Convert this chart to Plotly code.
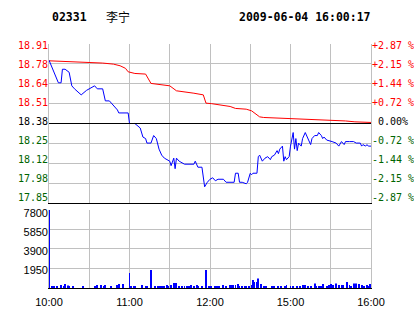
import plotly.graph_objects as go

# ---------------- data ----------------
stock_code = "02331"
stock_name = "李宁"
timestamp = "2009-06-04 16:00:17"
prev_close = 18.38

# minutes since 10:00 on a 240-minute trading axis (10:00-12:30, 14:30-16:00)
price_min = [0, 3, 7, 9, 10, 12, 14, 15, 17, 19, 24, 28, 34, 36, 40, 42, 45, 51, 52, 59, 60, 64,
             68, 70, 72, 73, 76, 78, 80, 82, 84, 86, 90, 91, 93, 94, 95, 97, 101, 108, 109, 111,
             114, 116, 118, 120, 122, 124, 126, 130, 132, 138, 139, 141, 142, 144, 147, 148, 150,
             151, 152, 155, 156, 157, 159, 161, 163, 165, 166, 168, 170, 171, 172, 174, 175, 176,
             177, 179, 180, 182, 183, 184, 185, 186, 188, 189, 191, 193, 195, 196, 198, 200, 201,
             203, 204, 205, 207, 211, 214, 216, 217, 218, 220, 221, 224, 227, 229, 232, 233, 234,
             236, 237, 238, 240]
price_val = [18.80, 18.74, 18.65, 18.65, 18.74, 18.74, 18.73, 18.72, 18.63, 18.61, 18.57, 18.60,
             18.63, 18.61, 18.61, 18.53, 18.53, 18.47, 18.45, 18.45, 18.38, 18.38,
             18.35, 18.29, 18.28, 18.25, 18.25, 18.30, 18.28, 18.21, 18.17, 18.15, 18.13, 18.10,
             18.15, 18.08, 18.15, 18.13, 18.11, 18.11, 18.13, 18.09,
             18.09, 17.96, 17.99, 18.01, 18.02, 18.00, 18.01, 18.01, 17.99, 17.99, 18.05, 18.05,
             17.99, 17.99, 17.98, 17.99, 18.05,
             18.04, 18.05, 18.05, 18.16, 18.17, 18.13, 18.15, 18.16, 18.14, 18.16, 18.17, 18.20,
             18.18, 18.21, 18.23, 18.13, 18.16,
             18.14, 18.16, 18.23, 18.32, 18.21, 18.28, 18.20, 18.25, 18.23, 18.28, 18.32, 18.28,
             18.24, 18.28, 18.30, 18.30, 18.32,
             18.30, 18.28, 18.29, 18.27, 18.26, 18.25, 18.23, 18.25, 18.26, 18.24, 18.26, 18.26,
             18.26, 18.25, 18.25, 18.23, 18.24,
             18.23, 18.24, 18.23, 18.23]

avg_min = [0, 12, 34, 40, 48, 53, 57, 59, 64, 72, 76, 86, 90, 95, 103, 108, 115, 117, 121, 130,
           135, 139, 147, 151, 154, 157, 160, 175, 196, 213, 221, 228, 240]
avg_val = [18.796, 18.792, 18.786, 18.781, 18.774, 18.763, 18.746, 18.723, 18.712, 18.708,
           18.646, 18.637, 18.630, 18.597, 18.590, 18.581, 18.570, 18.515, 18.512, 18.500,
           18.493, 18.480, 18.475, 18.464, 18.446, 18.424, 18.420, 18.415, 18.409, 18.402,
           18.397, 18.391, 18.387]

vol_min = [0, 2, 4, 6, 9, 11, 12, 14, 15, 18, 25, 34, 36, 39, 41, 42, 46, 51, 52, 55, 60, 61,
           63, 64, 69, 72, 73, 76, 79, 81, 83, 84, 86, 88, 89, 91, 93, 95, 97, 99, 101, 103, 104,
           105, 106, 108, 110, 111, 114, 117, 119, 121, 124, 125, 127, 130, 132, 135, 136, 137,
           139, 141, 142, 144, 146, 147, 149, 151, 152, 153, 155, 156, 158, 160, 162, 166, 167,
           168, 171, 173, 176, 177, 180, 182, 185, 187, 189, 191, 193, 195, 198, 199, 201, 203,
           204, 207, 209, 210, 212, 214, 216, 218, 219, 222, 224, 225, 227, 229, 231, 233, 235,
           237, 238, 239]
vol_val = [7750, 200, 200, 200, 300, 200, 400, 250, 200, 200, 200, 200, 300, 300, 200, 300, 200,
           300, 400, 400, 1500, 200,
           200, 200, 300, 200, 200, 1780, 200, 200, 200, 200, 200, 300, 200, 300, 500, 500, 200,
           200, 200, 200, 200,
           200, 300, 200, 300, 200, 200, 1780, 200, 200, 200, 200, 200, 300, 200, 300, 300, 300,
           300, 400, 200, 200, 200, 200, 200, 300, 800, 600, 600, 950, 400, 200, 200, 200, 200,
           200, 200, 200, 200, 300, 200, 200, 200, 200, 300, 300, 200, 200, 450, 200, 200, 200,
           400, 200, 300, 400, 300, 450, 300, 300, 300, 600, 300, 200, 450, 450, 400, 300, 200,
           300, 200, 400]

pct_ticks = [2.87, 2.15, 1.44, 0.72, 0.0, -0.72, -1.44, -2.15, -2.87]
price_tick_labels = ["18.91", "18.78", "18.64", "18.51", "18.38", "18.25", "18.12", "17.98", "17.85"]
pct_tick_labels = ["+2.87 %", "+2.15 %", "+1.44 %", "+0.72 %", "\u00a00.00%",
                   "-0.72 %", "-1.44 %", "-2.15 %", "-2.87 %"]
time_tick_min = [0, 30, 60, 90, 120, 150, 180, 210, 240]
time_tick_labels = ["10:00", "", "11:00", "", "12:00", "", "15:00", "", "16:00"]
vol_ticks = [1950, 3900, 5850, 7800]
vol_tick_labels = ["1950", "3900", "5850", "7800"]

# ---------------- layout geometry (pixels) ----------------
W, H = 414, 314
PX_L, PX_R = 49, 371
PR_TOP, PR_BOT = 44, 203
VO_TOP, VO_BOT = 209.5, 288
RED = "#FF0000"
GREEN = "#006400"
GRID = "#C0C0C0"


def colored(lbl, pct):
    c = RED if pct > 0 else (GREEN if pct < 0 else "#000000")
    return f'<span style="color:{c}">{lbl}</span>'


max_pct = max(pct_ticks)
n = (len(pct_ticks) - 1) // 2
pct_pos = [max_pct * (n - i) / n for i in range(len(pct_ticks))]
price_pos = [prev_close * (1 + p / 100) for p in pct_pos]
price_range = [prev_close * (1 - max_pct / 100), prev_close * (1 + max_pct / 100)]

# label placement (labels sit slightly off the grid lines, as in the original)
lab_frac = [(PR_BOT - (45.5 + 19.03 * i)) / (PR_BOT - PR_TOP) for i in range(len(pct_ticks))]
pct_lab_pos = [-max_pct + f * 2 * max_pct for f in lab_frac]
vmax = max(vol_ticks)
vol_lab_px = [270.3, 251.5, 232.5, 213.0]
vol_lab_pos = [(VO_BOT - y) / (VO_BOT - VO_TOP) * vmax for y in vol_lab_px]

xd = [PX_L / W, PX_R / W]
y_price = [(H - PR_BOT) / H, (H - PR_TOP) / H]
y_vol = [(H - VO_BOT) / H, (H - VO_TOP) / H]

fig = go.Figure()
fig.add_trace(go.Scatter(x=avg_min, y=avg_val, mode="lines", line=dict(color=RED, width=1),
                         xaxis="x", yaxis="y", hoverinfo="skip"))
fig.add_trace(go.Scatter(x=price_min, y=price_val, mode="lines", line=dict(color="#0000FF", width=1),
                         xaxis="x", yaxis="y", hoverinfo="skip"))
fig.add_trace(go.Bar(x=vol_min, y=vol_val, width=0.7, marker=dict(color="#0000FF", line=dict(width=0)),
                     xaxis="x2", yaxis="y2", hoverinfo="skip"))
# empty carrier traces so the label-only overlay axes get drawn
for xa, ya in (("x", "y3"), ("x", "y4"), ("x2", "y5")):
    fig.add_trace(go.Scatter(x=[None], y=[None], mode="lines", xaxis=xa, yaxis=ya,
                             hoverinfo="skip", showlegend=False))

mono = "DejaVu Sans Mono"
sans = "Liberation Sans, Arial"
common = dict(automargin=False, zeroline=False, ticks="")

fig.update_layout(
    width=W, height=H, margin=dict(l=0, r=0, t=0, b=0, pad=0),
    paper_bgcolor="white", plot_bgcolor="white", showlegend=False,
    xaxis=dict(domain=xd, anchor="y", range=[0, 240], tickvals=time_tick_min,
               showticklabels=False, showgrid=True, gridcolor=GRID, gridwidth=1,
               showline=True, linecolor="#000000", linewidth=1, **common),
    yaxis=dict(domain=y_price, anchor="x", range=price_range, tickvals=price_pos,
               showticklabels=False, showgrid=True, gridcolor=GRID, gridwidth=1,
               showline=True, linecolor=GRID, mirror=True, **common),
    yaxis4=dict(domain=y_price, anchor="x", overlaying="y", side="left",
                range=[-max_pct, max_pct], tickvals=pct_lab_pos,
                ticktext=[colored(l, p) for l, p in zip(price_tick_labels, pct_ticks)],
                showgrid=False, tickfont=dict(family=mono, size=10, color="#000000"), **common),
    yaxis3=dict(domain=y_price, anchor="x", overlaying="y", side="right",
                range=[-max_pct, max_pct], tickvals=pct_lab_pos,
                ticktext=[colored(l, p) for l, p in zip(pct_tick_labels, pct_ticks)],
                showgrid=False, tickfont=dict(family=mono, size=10, color="#000000"), **common),
    xaxis2=dict(domain=xd, anchor="y2", range=[0, 240], tickvals=time_tick_min, ticktext=time_tick_labels,
                showgrid=True, gridcolor=GRID, gridwidth=1, showline=True, linecolor="#000000",
                linewidth=1, ticklabelstandoff=4,
                tickfont=dict(family=sans, size=11, color="#000000"), **common),
    yaxis2=dict(domain=y_vol, anchor="x2", range=[0, vmax], tickvals=vol_ticks,
                showticklabels=False, showgrid=True, gridcolor=GRID, gridwidth=1,
                showline=True, linecolor=GRID, mirror=True, **common),
    yaxis5=dict(domain=y_vol, anchor="x2", overlaying="y2", side="left", range=[0, vmax],
                tickvals=vol_lab_pos, ticktext=vol_tick_labels, showgrid=False,
                tickfont=dict(family=sans, size=11, color="#000000"), **common),
    shapes=[dict(type="line", xref="x", yref="y", x0=0, x1=240, y0=prev_close, y1=prev_close,
                 line=dict(color="#000000", width=1))],
    annotations=[
        dict(text=f"<b>{stock_code}</b>", x=50 / W, y=(H - 17) / H, xref="paper", yref="paper",
             xanchor="left", yanchor="middle", showarrow=False,
             font=dict(family=mono, size=11.5, color="#000000")),
        dict(text=stock_name, x=104 / W, y=(H - 17) / H, xref="paper", yref="paper",
             xanchor="left", yanchor="middle", showarrow=False,
             font=dict(family="Noto Sans CJK SC", size=12, color="#000000")),
        dict(text=f"<b>{timestamp}</b>", x=237 / W, y=(H - 17) / H, xref="paper", yref="paper",
             xanchor="left", yanchor="middle", showarrow=False,
             font=dict(family=mono, size=11.5, color="#000000")),
    ],
)

fig.write_html("out.html", config={"displayModeBar": False})
